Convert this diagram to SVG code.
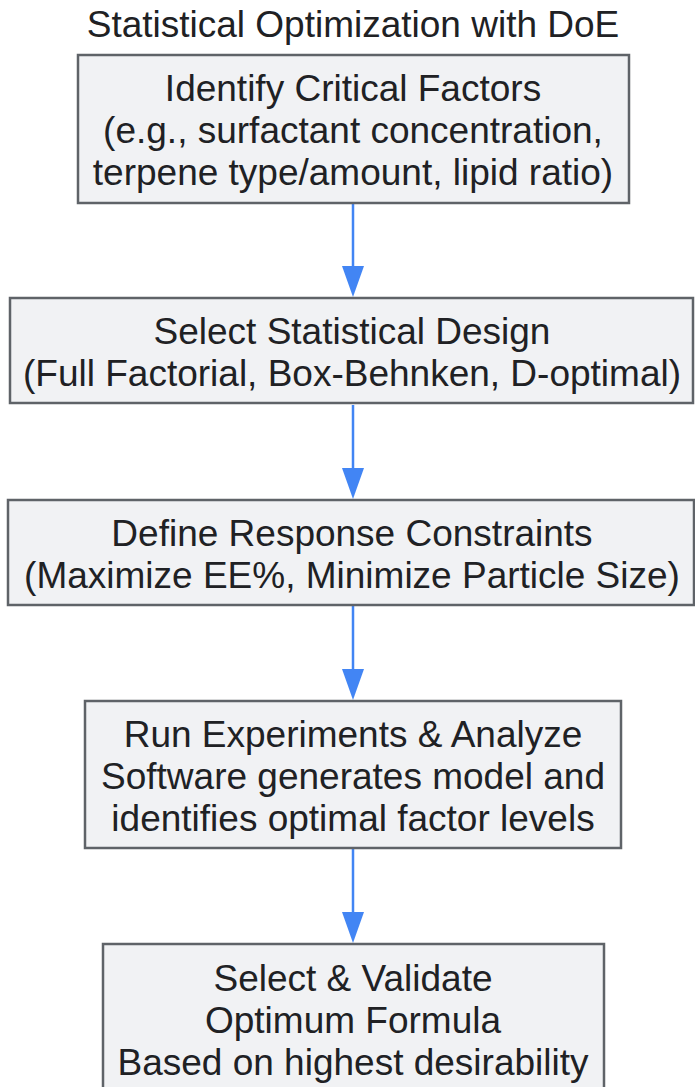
<svg xmlns="http://www.w3.org/2000/svg" width="695" height="1087" viewBox="0 0 695 1087">
<defs>
<style>
.box{fill:#f1f2f4;stroke:#5f6368;stroke-width:2.5}
.t{font-family:"Liberation Sans",Arial,sans-serif;font-size:37px;fill:#202124;text-anchor:middle}
.edge{stroke:#4285f4;stroke-width:2.5;fill:none}
</style>
</defs>
<rect width="695" height="1087" fill="#ffffff"/>
<text class="t" x="353" y="37">Statistical Optimization with DoE</text>
<g id="connectors">
<line class="edge" x1="353" y1="204" x2="353" y2="268"/>
<path d="M342,266 L364,266 L353,297 Z" fill="#4285f4"/>
<line class="edge" x1="353" y1="405" x2="353" y2="470"/>
<path d="M342,468 L364,468 L353,499 Z" fill="#4285f4"/>
<line class="edge" x1="353" y1="606" x2="353" y2="671"/>
<path d="M342,669 L364,669 L353,700 Z" fill="#4285f4"/>
<line class="edge" x1="353" y1="849" x2="353" y2="914"/>
<path d="M342,912 L364,912 L353,943 Z" fill="#4285f4"/>
</g>
<g id="n1">
<rect class="box" x="78" y="55" width="551" height="148"/>
<text class="t" x="353" y="101">Identify Critical Factors</text>
<text class="t" x="353" y="143">(e.g., surfactant concentration,</text>
<text class="t" x="353" y="185">terpene type/amount, lipid ratio)</text>
</g>
<g id="n2">
<rect class="box" x="10" y="298" width="683" height="105"/>
<text class="t" x="352" y="344">Select Statistical Design</text>
<text class="t" x="352" y="386">(Full Factorial, Box-Behnken, D-optimal)</text>
</g>
<g id="n3">
<rect class="box" x="8" y="500" width="686" height="105"/>
<text class="t" x="352" y="546">Define Response Constraints</text>
<text class="t" x="352" y="588">(Maximize EE%, Minimize Particle Size)</text>
</g>
<g id="n4">
<rect class="box" x="85" y="701" width="536" height="147"/>
<text class="t" x="353" y="747">Run Experiments &amp; Analyze</text>
<text class="t" x="353" y="789">Software generates model and</text>
<text class="t" x="353" y="831">identifies optimal factor levels</text>
</g>
<g id="n5">
<rect class="box" x="103" y="944" width="501" height="150"/>
<text class="t" x="353" y="991">Select &amp; Validate</text>
<text class="t" x="353" y="1033">Optimum Formula</text>
<text class="t" x="353" y="1075">Based on highest desirability</text>
</g>
</svg>
